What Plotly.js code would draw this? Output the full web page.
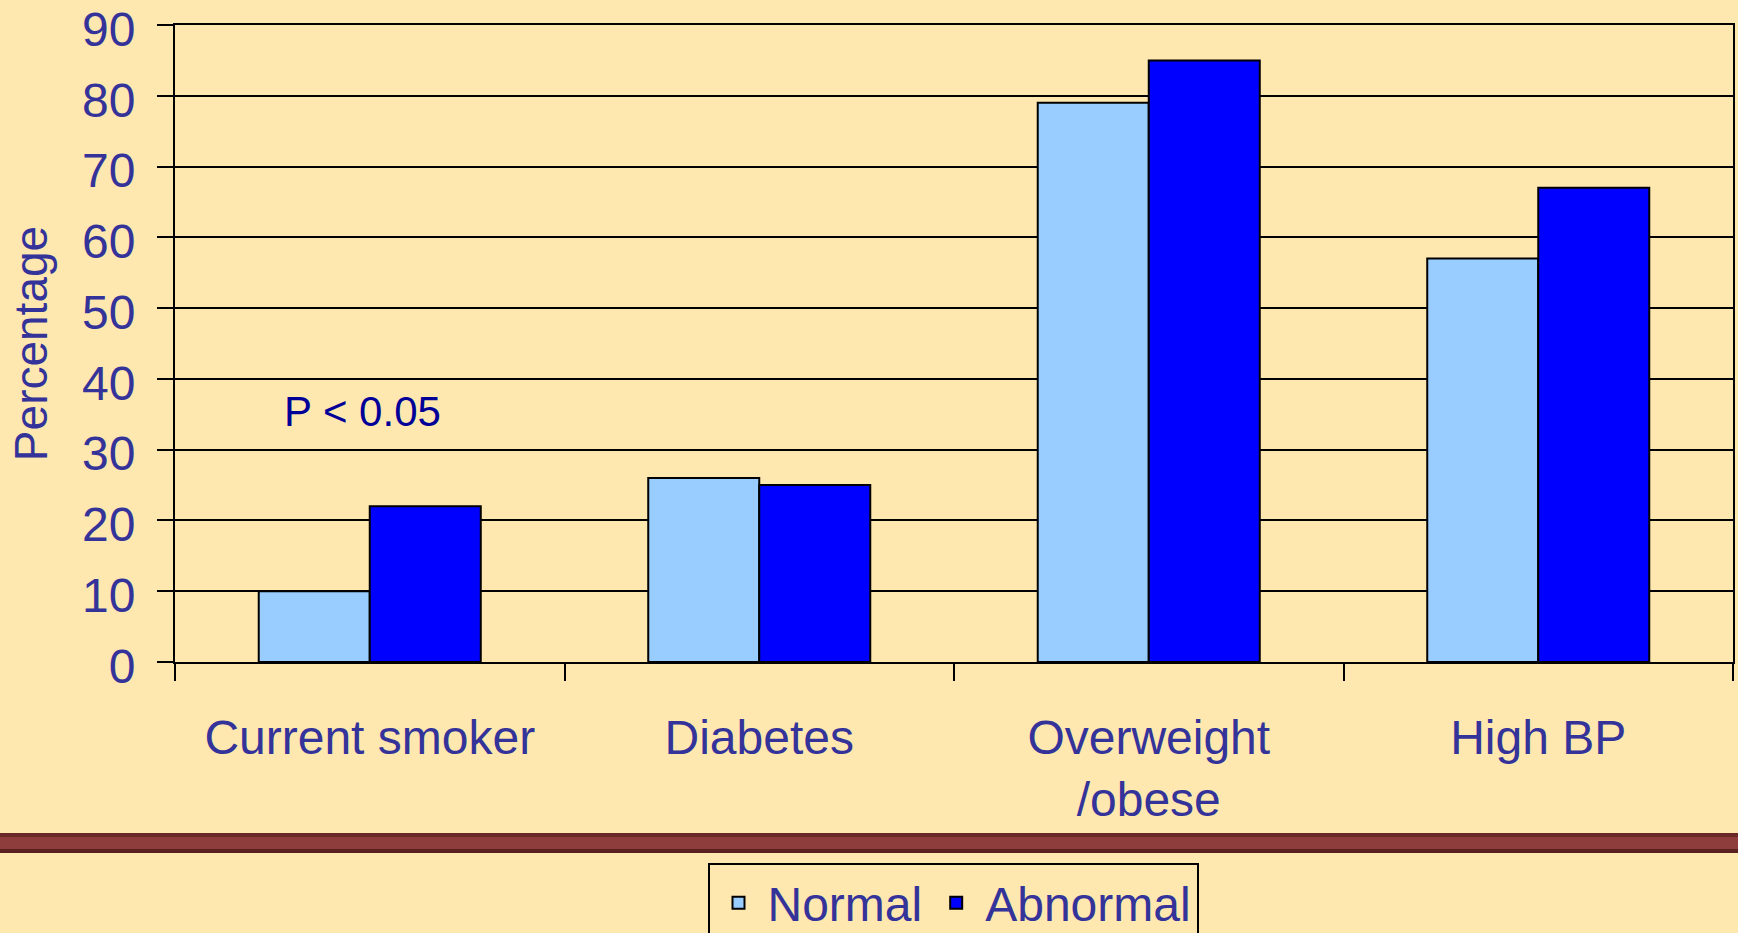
<!DOCTYPE html>
<html>
<head>
<meta charset="utf-8">
<script src="https://cdn.plot.ly/plotly-3.0.1.min.js"></script>
<style>
  html, body { margin: 0; padding: 0; background: #FFE7B0; }
  #chart { width: 1738px; height: 933px; }
</style>
</head>
<body>
<div id="chart"></div>
<script>
const categories = ["Current smoker", "Diabetes", "Overweight<br>/obese", "High BP"];
const normalValues = [10, 26, 79, 57];
const abnormalValues = [22, 25, 85, 67];
const seriesNames = ["Normal", "Abnormal"];
const yTickValues = [0, 10, 20, 30, 40, 50, 60, 70, 80, 90];
const annotationText = "P < 0.05";

const W = 1738, H = 933;
const M = { l: 175, r: 5, t: 25, b: 271 };
const plotH = H - M.t - M.b;
const plotW = W - M.l - M.r;
function pyToPaper(py) { return (H - M.b - py) / plotH; }
function pxToPaper(px) { return (px - M.l) / plotW; }

const bg = "#FFE7B0";
const txt = "#333399";
const font = "Liberation Sans, Arial, sans-serif";

const traces = [
  { type: "bar", name: seriesNames[0], x: categories, y: normalValues,
    marker: { color: "#99CCFF", line: { color: "#000000", width: 2 } }, hoverinfo: "x+y" },
  { type: "bar", name: seriesNames[1], x: categories, y: abnormalValues,
    marker: { color: "#0000FF", line: { color: "#000000", width: 2 } }, hoverinfo: "x+y" }
];

const layout = {
  width: W, height: H,
  margin: M,
  paper_bgcolor: bg, plot_bgcolor: bg,
  font: { family: font, color: txt, size: 46 },
  barmode: "group", bargap: 0.43, bargroupgap: 0,
  showlegend: true,
  legend: {
    orientation: "h", xref: "container", yref: "container",
    x: 953 / W, xanchor: "center", y: (H - 863) / H, yanchor: "top",
    bgcolor: bg, bordercolor: "#000000", borderwidth: 2, itemwidth: 48,
    font: { size: 48, color: txt, family: font }
  },
  xaxis: {
    type: "category", tickson: "boundaries", ticks: "outside", ticklen: 17, tickwidth: 2, tickcolor: "#000",
    showline: true, linecolor: "#000", linewidth: 2, mirror: true, showgrid: false, zeroline: false,
    tickfont: { size: 48, color: txt, family: font }, ticklabelstandoff: 32, automargin: false
  },
  yaxis: {
    range: [0, 90], tickvals: yTickValues, ticks: "outside", ticklen: 16, tickwidth: 2, tickcolor: "#000",
    showline: true, linecolor: "#000", linewidth: 2, mirror: true,
    showgrid: true, gridcolor: "#000", gridwidth: 2, zeroline: false,
    tickfont: { size: 48, color: txt, family: font }, ticklabelstandoff: 12, ticklabelshift: 4,
    ticklabeloverflow: "allow",
    title: { text: "Percentage", font: { size: 46, color: txt, family: font }, standoff: 20 },
    automargin: false
  },
  annotations: [
    { text: annotationText, xref: "paper", yref: "y", x: pxToPaper(362), xanchor: "center",
      y: 35.4, yanchor: "middle", showarrow: false,
      font: { size: 42, color: "#000099", family: font } }
  ],
  shapes: [
    { type: "rect", xref: "paper", yref: "paper", x0: pxToPaper(0), x1: pxToPaper(W),
      y0: pyToPaper(853), y1: pyToPaper(833), fillcolor: "#8E3C3C", line: { width: 0 }, layer: "above" },
    { type: "rect", xref: "paper", yref: "paper", x0: pxToPaper(0), x1: pxToPaper(W),
      y0: pyToPaper(837), y1: pyToPaper(833), fillcolor: "#6A2828", line: { width: 0 }, layer: "above" },
    { type: "rect", xref: "paper", yref: "paper", x0: pxToPaper(0), x1: pxToPaper(W),
      y0: pyToPaper(853), y1: pyToPaper(849), fillcolor: "#5A2020", line: { width: 0 }, layer: "above" }
  ]
};

Plotly.newPlot("chart", traces, layout, { displayModeBar: false, staticPlot: true });
</script>
</body>
</html>
